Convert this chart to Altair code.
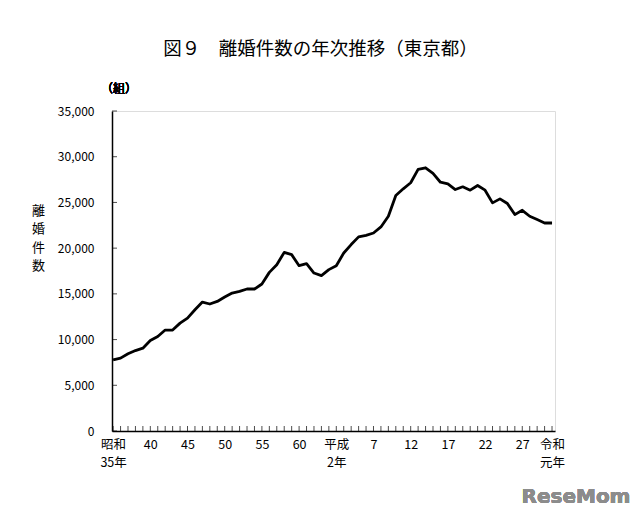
import altair as alt
import pandas as pd

years = [1960, 1961, 1962, 1963, 1964, 1965, 1966, 1967, 1968, 1969,
         1970, 1971, 1972, 1973, 1974, 1975, 1976, 1977, 1978, 1979,
         1980, 1981, 1982, 1983, 1984, 1985, 1986, 1987, 1988, 1989,
         1990, 1991, 1992, 1993, 1994, 1995, 1996, 1997, 1998, 1999,
         2000, 2001, 2002, 2003, 2004, 2005, 2006, 2007, 2008, 2009,
         2010, 2011, 2012, 2013, 2014, 2015, 2016, 2017, 2018, 2019]

divorces = [7780, 7970, 8440, 8800, 9060, 9900, 10330, 11040, 11040, 11800,
            12350, 13260, 14100, 13890, 14170, 14650, 15090, 15270, 15530, 15530,
            16080, 17350, 18190, 19540, 19290, 18080, 18300, 17280, 16990, 17650,
            18080, 19470, 20390, 21230, 21400, 21660, 22320, 23490, 25760, 26490,
            27150, 28610, 28790, 28170, 27210, 27040, 26410, 26710, 26340, 26850,
            26340, 24950, 25390, 24880, 23670, 24140, 23490, 23130, 22750, 22750]

tick_years = [1960, 1965, 1970, 1975, 1980, 1985, 1990, 1995, 2000, 2005, 2010, 2015, 2019]
tick_labels = [["昭和", "35年"], "40", "45", "50", "55", "60", ["平成", "2年"],
               "7", "12", "17", "22", "27", ["令和", "元年"]]

y_ticks = [0, 5000, 10000, 15000, 20000, 25000, 30000, 35000]

FONT = "Noto Sans CJK JP"
W, H = 443, 320

df = pd.DataFrame({"year": years, "value": divorces})
df_y = pd.DataFrame({"value": y_ticks})


def lab(v):
    if isinstance(v, list):
        return "[" + ",".join("'" + s + "'" for s in v) + "]"
    return "'" + v + "'"


expr = "''"
for yv, tl in reversed(list(zip(tick_years, tick_labels))):
    expr = f"datum.value == {yv} ? {lab(tl)} : ({expr})"

xscale = alt.Scale(domain=[1959.85, 2019.4], nice=False, zero=False)
yscale = alt.Scale(domain=[0, 35000], nice=False)

x_axis = alt.Axis(values=tick_years, labelExpr=expr, tickSize=0, grid=False,
                  labelPadding=7, labelLineHeight=18, labelFontSize=12.5,
                  labelFont=FONT, labelColor="black", domainColor="black",
                  domainWidth=1.5, labelFlush=False, labelOverlap=False, title=None)

y_axis = alt.Axis(values=y_ticks, format=",.0f", formatType="number", tickSize=0, grid=False,
                  labelPadding=18, labelFontSize=12, labelFont=FONT,
                  labelColor="black", domainColor="black", domainWidth=1.5,
                  labelOverlap=False,
                  title=["離", "婚", "件", "数"], titleAngle=0, titleX=-74,
                  titleY=93, titleAlign="center", titleBaseline="top",
                  titleLineHeight=18.5, titleFontSize=13, titleFont=FONT,
                  titleFontWeight="normal", titleColor="black")

X = alt.X("year:Q", scale=xscale, axis=x_axis)
Y = alt.Y("value:Q", scale=yscale, axis=y_axis)

line = alt.Chart(df).mark_line(color="black", strokeWidth=2.8, strokeJoin="round").encode(
    x=X, y=Y,
)

xticks = alt.Chart(df).mark_tick(orient="vertical", color="black", thickness=1, size=5).encode(
    x=X,
    y=alt.value(H - 2.5),
)

yticks = alt.Chart(df_y).mark_tick(orient="horizontal", color="black", thickness=1, size=5).encode(
    y=Y,
    x=alt.value(2.5),
)

unit = alt.Chart(df_y).mark_text(text="（組）", font=FONT, fontSize=12, color="black",
                                 align="center", baseline="middle").encode(
    x=alt.value(7), y=alt.value(-22)
)

logo = alt.Chart(df_y).mark_text(text="ReseMom", font="DejaVu Sans", fontSize=20,
                                 fontWeight="bold", color="#8c8c8c",
                                 align="center", baseline="middle").encode(
    x=alt.value(464), y=alt.value(386)
)

chart = alt.layer(line, xticks, yticks, unit, logo).properties(
    width=W, height=H,
    padding={"left": 112, "top": 111, "right": 85, "bottom": 86},
    autosize=alt.AutoSizeParams(type="none"),
    title=alt.Title("図９　離婚件数の年次推移（東京都）", font=FONT, fontSize=18.5,
                    fontWeight="normal", color="black", anchor="middle",
                    frame="group", dx=-13, offset=25),
).configure_view(stroke=None).configure(background="white")

chart.save("out.html", embed_options={"renderer": "svg", "actions": False})
